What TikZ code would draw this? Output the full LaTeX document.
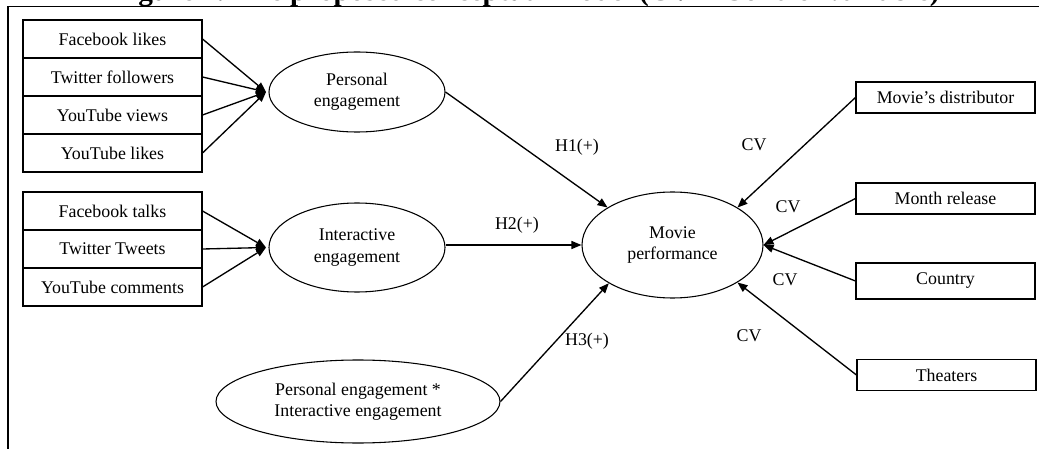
\documentclass[tikz,border=0pt]{standalone}
\usepackage{fontspec}
\setmainfont{Liberation Serif}
\usetikzlibrary{arrows.meta,shapes.geometric}
\begin{document}
\begin{tikzpicture}[x=0.75pt,y=-0.75pt,
  every node/.style={font=\fontsize{13.4pt}{16pt}\selectfont, inner sep=0pt, align=center},
  lbox/.style={draw, line width=0.8pt, minimum width=134.25pt, minimum height=28.5pt},
  rbox/.style={draw, line width=0.8pt, minimum width=134.25pt, minimum height=23.25pt},
  ell/.style={draw, ellipse, line width=0.8pt},
  arr/.style={line width=1pt, -{Triangle[length=7.5pt,width=6pt]}},
  lbl/.style={}
]
\useasboundingbox (0,0) rectangle (1039,449);
\begin{scope}
\clip (0,0) rectangle (1039,449);
\node[anchor=base west, font=\bfseries\fontsize{22pt}{24pt}\selectfont] (title) at (112,0.5)
  {Figure 1. The proposed conceptual model (CV = Control variable)};
\end{scope}
% frame
\draw[line width=1.1pt] (8,449) -- (8,6.5) -- (1039,6.5);

% left group 1
\node[lbox] (fl) at (112.5,39) {Facebook likes};
\node[lbox] (tf) at (112.5,77) {Twitter followers};
\node[lbox] (yv) at (112.5,115) {YouTube views};
\node[lbox] (yl) at (112.5,153) {YouTube likes};
% left group 2
\node[lbox] (ft) at (112.5,211) {Facebook talks};
\node[lbox] (tt) at (112.5,249) {Twitter Tweets};
\node[lbox] (yc) at (112.5,287) {YouTube comments};

% ellipses
\node[ell, minimum width=132pt, minimum height=60pt] (pe) at (357,92) {Personal\\engagement};
\node[ell, minimum width=132pt, minimum height=66.75pt] (ie) at (357,247.5) {Interactive\\engagement};
\node[ell, minimum width=213pt, minimum height=62.25pt] (ix) at (358,401.5) {Personal engagement *\\Interactive engagement};
\node[ell, minimum width=135.75pt, minimum height=79.5pt] (mp) at (672.5,245) {Movie\\performance};

\coordinate (pein) at (266,92);
\coordinate (iein) at (266,247.5);

% right boxes
\node[rbox] (md) at (945.5,97.5) {Movie’s distributor};
\node[rbox] (mr) at (945.5,198.5) {Month release};
\node[rbox, minimum height=27pt] (co) at (945.5,281) {Country};
\node[rbox] (th) at (946.5,375) {Theaters};

% indicator arrows
\foreach \n in {fl,tf,yv,yl} \draw[arr] (\n.east) -- (pein);
\foreach \n in {ft,tt,yc} \draw[arr] (\n.east) -- (iein);

% hypotheses
\draw[arr] (pe.east) -- (mp.150);
\draw[arr] (ie.east |- mp.west) -- (mp.west);
\draw[arr] (ix.east) -- (mp.211);

% controls
\draw[arr] (md.west) -- (mp.30);
\draw[arr] (mr.west) -- (mp.east);
\draw[arr] (co.west) -- (mp.east);
\draw[arr] (th.west) -- (mp.330);

% labels
\node[lbl] (h1) at (577,147) {H1(+)};
\node[lbl] (h2) at (517,225) {H2(+)};
\node[lbl] (h3) at (587,341) {H3(+)};
\node[lbl] (cv1) at (754,145) {CV};
\node[lbl] (cv2) at (788,207) {CV};
\node[lbl] (cv3) at (785,280) {CV};
\node[lbl] (cv4) at (749,336) {CV};
\end{tikzpicture}
\end{document}
